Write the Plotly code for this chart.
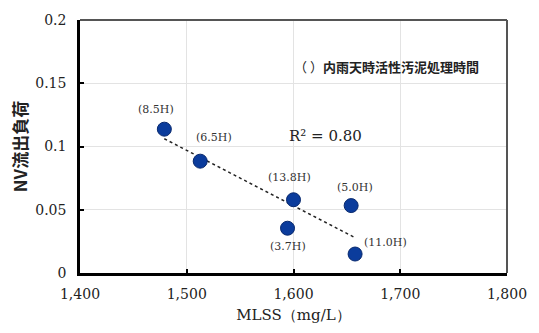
import numpy as np
import plotly.graph_objects as go

mlss = [1479, 1512.6, 1600, 1594.4, 1654, 1657.7]
nv_load = [0.1137, 0.0884, 0.0579, 0.0354, 0.0533, 0.0150]
hours = ["(8.5H)", "(6.5H)", "(13.8H)", "(3.7H)", "(5.0H)", "(11.0H)"]
x_ticks = [1400, 1500, 1600, 1700, 1800]
y_ticks = [0, 0.05, 0.1, 0.15, 0.2]
r2_label = "R² = 0.80"

# label offsets (pixels) relative to point
label_pos = [(-8, -20), (14, -24), (-4, -22), (0, 18), (4, -18), (30, -12)]

slope, intercept = np.polyfit(mlss, nv_load, 1)
xl = np.array([min(mlss), max(mlss)])
yl = slope * xl + intercept

serif = "DejaVu Serif"
fig = go.Figure()
fig.add_trace(go.Scatter(x=xl, y=yl, mode="lines",
                         line=dict(color="#222", width=1.5, dash="dot"),
                         hoverinfo="skip", showlegend=False))
fig.add_trace(go.Scatter(x=mlss, y=nv_load, mode="markers",
                         marker=dict(size=14, color="#0b3c9c",
                                     line=dict(color="#08296e", width=1)),
                         showlegend=False))

for xv, yv, t, (dx, dy) in zip(mlss, nv_load, hours, label_pos):
    fig.add_annotation(x=xv, y=yv, text=t, showarrow=False, xshift=dx, yshift=-dy,
                       font=dict(family=serif, size=11, color="#333"))

fig.add_annotation(x=1630, y=0.108, text=r2_label, showarrow=False,
                   font=dict(family=serif, size=15, color="#222"))
fig.add_annotation(x=0.938, y=0.86, xref="paper", yref="paper", xanchor="right",
                   text="（ ）<b>内雨天時活性汚泥処理時間</b>", showarrow=False,
                   font=dict(family="Noto Sans CJK JP", size=13, color="#222"))

fig.add_shape(type="line", xref="paper", yref="paper", x0=0, x1=1, y0=1, y1=1,
              line=dict(color="#555", width=2))
fig.add_shape(type="line", xref="paper", yref="paper", x0=1, x1=1, y0=0, y1=1,
              line=dict(color="#555", width=2))

fig.update_layout(
    width=539, height=333,
    margin=dict(l=80, r=29, t=12, b=59),
    plot_bgcolor="white", paper_bgcolor="white",
    xaxis=dict(range=[1400, 1800], tickvals=x_ticks, tickformat=",d",
               showgrid=True, gridcolor="#e3e3e3", gridwidth=1,
               showline=True, linecolor="black", linewidth=2.5,
               ticks="inside", ticklen=4, tickwidth=2, tickcolor="black",
               zeroline=False, ticklabelstandoff=6,
               tickfont=dict(family=serif, size=14, color="#222"),
               title=dict(text="MLSS（mg/L）", standoff=9,
                          font=dict(family=serif, size=15, color="#222"))),
    yaxis=dict(range=[0, 0.2], tickvals=y_ticks,
               ticktext=["0", "0.05", "0.1", "0.15", "0.2"],
               showgrid=True, gridcolor="#e3e3e3", gridwidth=1,
               showline=True, linecolor="black", linewidth=2.5,
               ticks="inside", ticklen=4, tickwidth=2, tickcolor="black",
               zeroline=False, ticklabelstandoff=8,
               tickfont=dict(family=serif, size=14, color="#222"),
               title=dict(text="<b>NV流出負荷</b>", standoff=4,
                          font=dict(family="Noto Sans CJK JP", size=17, color="#222"))),
)

fig.write_html("out.html")
